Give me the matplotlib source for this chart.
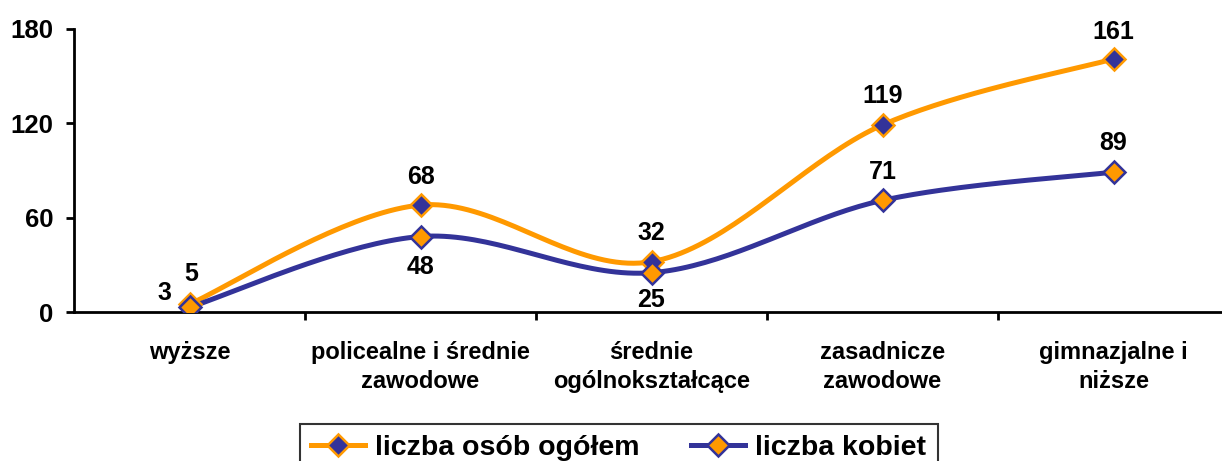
import matplotlib.pyplot as plt
import numpy as np

plt.rcParams['font.family'] = ['Liberation Sans', 'DejaVu Sans']
plt.rcParams['font.weight'] = 'bold'

categories = ["wyższe", "policealne i średnie\nzawodowe", "średnie\nogólnokształcące",
              "zasadnicze\nzawodowe", "gimnazjalne i\nniższe"]
total = [5, 68, 32, 119, 161]
women = [3, 48, 25, 71, 89]
series_names = ["liczba osób ogółem", "liczba kobiet"]

ORANGE = "#FF9900"
NAVY = "#333399"


def smooth(x, y, n=40):
    # Excel-like smoothed line: Catmull-Rom bezier through the points
    p = np.column_stack([x, y]).astype(float)
    pts = [p[0]] + list(p) + [p[-1]]
    out = []
    t = np.linspace(0, 1, n)[:, None]
    for i in range(1, len(pts) - 2):
        p0, p1, p2, p3 = pts[i - 1], pts[i], pts[i + 1], pts[i + 2]
        c1 = p1 + (p2 - p0) / 6
        c2 = p2 - (p3 - p1) / 6
        seg = ((1 - t) ** 3) * p1 + 3 * ((1 - t) ** 2) * t * c1 + 3 * (1 - t) * t ** 2 * c2 + t ** 3 * p2
        out.append(seg)
    s = np.vstack(out)
    return s[:, 0], s[:, 1]


fig = plt.figure(figsize=(12.22, 4.61), dpi=100)
ax = fig.add_axes([74 / 1222, 149 / 461, 1155 / 1222, 283 / 461])

x = np.arange(len(categories))
mk = dict(marker="D", markersize=11, markeredgewidth=1.8)
for vals, lc, fc, name in [(total, ORANGE, NAVY, series_names[0]), (women, NAVY, ORANGE, series_names[1])]:
    sx, sy = smooth(x, vals)
    ax.plot(sx, sy, color=lc, lw=3.6, solid_capstyle="round", zorder=2)
    ax.plot(x, vals, linestyle="none", markerfacecolor=fc, markeredgecolor=lc, zorder=3, **mk)
    ax.plot([], [], color=lc, lw=3.6, markerfacecolor=fc, markeredgecolor=lc, label=name, **mk)

lab_kw = dict(fontsize=18, fontweight="bold", ha="center", va="center")
t_off = [(2, 30), (0, 28), (0, 29), (0, 29), (0, 27)]
for i, v in enumerate(total):
    ax.annotate(str(v), (x[i], v), xytext=t_off[i], textcoords="offset pixels", **lab_kw)
w_off = [(-25, 14), (0, -30), (0, -27), (0, 28), (0, 29)]
for i, v in enumerate(women):
    ax.annotate(str(v), (x[i], v), xytext=w_off[i], textcoords="offset pixels", **lab_kw)

ax.set_xlim(-0.5, 4.5)
ax.set_ylim(0, 180)
ax.set_yticks([0, 60, 120, 180])
ax.tick_params(axis="y", labelsize=18.5, width=2, length=6, pad=9)
ax.set_xticks(x)
ax.set_xticklabels(categories, fontsize=17, fontweight="bold", linespacing=1.35)
ax.tick_params(axis="x", length=0, pad=21)
ax.set_xticks(np.arange(0.5, 4, 1), minor=True)
ax.tick_params(axis="x", which="minor", length=6, width=2)
for s in ["top", "right"]:
    ax.spines[s].set_visible(False)
for s in ["left", "bottom"]:
    ax.spines[s].set_linewidth(2)

leg = fig.legend(loc="upper left", bbox_to_anchor=(300 / 1222, 37 / 461), ncol=2,
                 prop=dict(size=20.5, weight="bold"), frameon=True, fancybox=False,
                 handlelength=1.9, handletextpad=0.35, columnspacing=1.8,
                 borderpad=0.4, borderaxespad=0)
leg.get_frame().set_edgecolor("black")
leg.get_frame().set_linewidth(1.5)

fig.savefig("out.png", dpi=100)
